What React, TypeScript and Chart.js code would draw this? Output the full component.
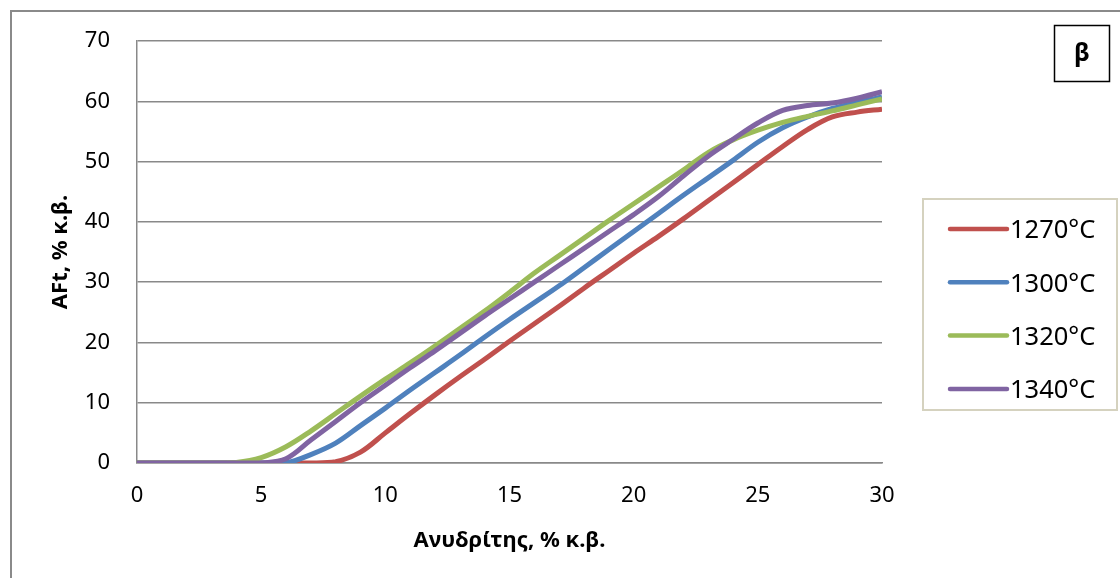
import React, { useEffect, useRef } from "react";
import { Chart, registerables } from "chart.js";

Chart.register(...registerables);

const xValues = [0, 1, 2, 3, 4, 5, 6, 7, 8, 9, 10, 11, 12, 13, 14, 15, 16, 17, 18, 19, 20, 21, 22, 23, 24, 25, 26, 27, 28, 29, 30];
const series1270 = [0, 0, 0, 0, 0, 0, 0, 0, 0.2, 1.8, 5.0, 8.2, 11.3, 14.3, 17.2, 20.2, 23.1, 26.0, 29.0, 31.9, 34.8, 37.6, 40.5, 43.5, 46.5, 49.5, 52.5, 55.3, 57.4, 58.2, 58.7];
const series1300 = [0, 0, 0, 0, 0, 0, 0, 1.4, 3.3, 6.2, 9.1, 12.1, 15.0, 17.9, 20.9, 23.8, 26.6, 29.4, 32.4, 35.4, 38.4, 41.4, 44.4, 47.3, 50.2, 53.2, 55.6, 57.4, 58.8, 59.8, 60.7];
const series1320 = [0, 0, 0, 0, 0.1, 0.9, 2.7, 5.3, 8.2, 11.1, 13.9, 16.6, 19.4, 22.3, 25.2, 28.3, 31.5, 34.4, 37.3, 40.2, 43.0, 45.8, 48.6, 51.5, 53.6, 55.2, 56.5, 57.5, 58.4, 59.4, 60.4];
const series1340 = [0, 0, 0, 0, 0, 0, 0.7, 3.8, 6.9, 10.0, 12.9, 15.8, 18.6, 21.5, 24.4, 27.2, 30.0, 32.8, 35.6, 38.4, 41.2, 44.2, 47.6, 50.9, 53.7, 56.4, 58.5, 59.3, 59.7, 60.5, 61.6];
const seriesLabels = ["1270°C", "1300°C", "1320°C", "1340°C"];
const seriesColors = ["#C0504D", "#4F81BD", "#9BBB59", "#8064A2"];
const xTitle = "Ανυδρίτης, % κ.β.";
const yTitle = "AFt, % κ.β.";
const panelLabel = "β";

const FONT = "'Noto Sans', 'DejaVu Sans', sans-serif";

const boxesPlugin = {
  id: "boxes",
  afterDraw(chart: any) {
    const ctx = chart.ctx as CanvasRenderingContext2D;
    ctx.save();
    // legend box
    ctx.strokeStyle = "#d5d2bf";
    ctx.lineWidth = 2;
    ctx.strokeRect(923, 199, 194, 211);
    chart.data.datasets.forEach((ds: any, i: number) => {
      const y = 229 + i * 53.3;
      ctx.strokeStyle = ds.borderColor;
      ctx.lineWidth = 4.5;
      ctx.lineCap = "round";
      ctx.beginPath();
      ctx.moveTo(950, y);
      ctx.lineTo(1007, y);
      ctx.stroke();
      ctx.fillStyle = "#000";
      ctx.font = `25.5px ${FONT}`;
      ctx.textBaseline = "middle";
      ctx.textAlign = "left";
      ctx.fillText(ds.label, 1010, y + 2);
    });
    // panel label box
    ctx.strokeStyle = "#000";
    ctx.lineWidth = 1.5;
    ctx.strokeRect(1054.5, 25.5, 55, 56);
    ctx.fillStyle = "#000";
    ctx.font = `bold 25px ${FONT}`;
    ctx.textAlign = "center";
    ctx.textBaseline = "middle";
    ctx.fillText(panelLabel, 1082, 54);
    ctx.restore();
  },
};

export default function App() {
  const canvasRef = useRef<HTMLCanvasElement | null>(null);

  useEffect(() => {
    if (!canvasRef.current) return;
    const all = [series1270, series1300, series1320, series1340];
    const chart = new Chart(canvasRef.current, {
      type: "line",
      data: {
        datasets: all.map((s, i) => ({
          label: seriesLabels[i],
          data: xValues.map((x, j) => ({ x, y: s[j] })),
          borderColor: seriesColors[i],
          backgroundColor: seriesColors[i],
          borderWidth: 5,
          pointRadius: 0,
          tension: 0.35,
          order: all.length - 1 - i,
        })),
      },
      options: {
        animation: false,
        responsive: false,
        layout: { padding: { top: 41, right: 238, left: 0, bottom: 0 } },
        plugins: {
          legend: { display: false },
          tooltip: { enabled: false },
        },
        scales: {
          x: {
            type: "linear",
            min: 0,
            max: 30,
            ticks: {
              stepSize: 5,
              color: "#000",
              font: { family: FONT, size: 22 },
              padding: 20,
              maxRotation: 0,
            },
            grid: { display: false, drawTicks: false },
            border: { display: true, color: "#898989", width: 1.5 },
            title: {
              display: true,
              text: xTitle,
              color: "#000",
              font: { family: FONT, size: 22, weight: "bold" },
              padding: { top: 0, bottom: 24 },
            },
            afterFit(scale: any) {
              scale.height = 115;
            },
          },
          y: {
            min: 0,
            max: 70,
            ticks: {
              stepSize: 10,
              color: "#000",
              font: { family: FONT, size: 22 },
              padding: 27,
            },
            grid: { color: "#898989", lineWidth: 1.5, drawTicks: false },
            border: { display: true, color: "#898989", width: 1.5 },
            title: {
              display: true,
              text: yTitle,
              color: "#000",
              font: { family: FONT, size: 22, weight: "bold" },
              padding: { top: 48, bottom: 0 },
            },
            afterFit(scale: any) {
              scale.width = 137;
            },
          },
        },
      },
      plugins: [boxesPlugin],
    });
    return () => chart.destroy();
  }, []);

  return (
    <div
      style={{
        position: "fixed",
        left: 0,
        top: 0,
        width: 1120,
        height: 578,
        background: "#fff",
        overflow: "hidden",
      }}
    >
      <div
        style={{
          position: "absolute",
          left: 10,
          top: 10,
          width: 1140,
          height: 600,
          border: "2px solid #8a8a8a",
        }}
      />
      <canvas
        ref={canvasRef}
        width={1120}
        height={578}
        style={{ position: "absolute", left: 0, top: 0, width: 1120, height: 578 }}
      />
    </div>
  );
}
